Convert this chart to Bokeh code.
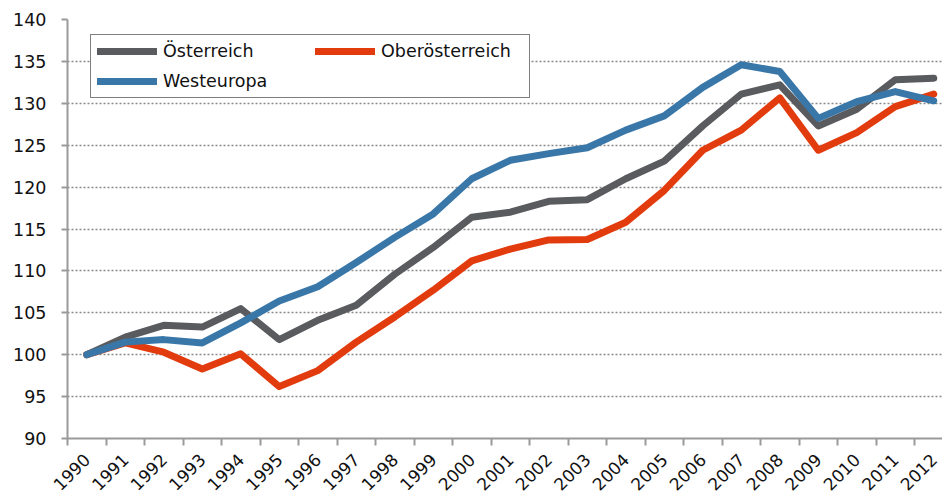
import math
from bokeh.plotting import figure
from bokeh.models import Range1d, FixedTicker, Legend, LegendItem
from bokeh.embed import file_html
from bokeh.resources import INLINE

years = list(range(1990, 2013))
oesterreich = [100, 102.1, 103.5, 103.3, 105.5, 101.8, 104.1, 105.9, 109.6, 112.8,
               116.4, 117.0, 118.3, 118.5, 121.0, 123.1, 127.3, 131.1, 132.2, 127.3,
               129.3, 132.8, 133.0]
oberoesterreich = [100, 101.4, 100.3, 98.3, 100.1, 96.2, 98.1, 101.5, 104.5, 107.7,
                   111.2, 112.6, 113.7, 113.75, 115.8, 119.6, 124.4, 126.8, 130.65, 124.4,
                   126.5, 129.6, 131.1]
westeuropa = [100, 101.5, 101.8, 101.4, 103.8, 106.4, 108.1, 111.0, 114.0, 116.8,
              121.0, 123.2, 124.0, 124.7, 126.8, 128.5, 131.9, 134.6, 133.8, 128.2,
              130.2, 131.4, 130.3]
series_names = ["Österreich", "Oberösterreich", "Westeuropa"]
series_colors = ["#5a5b5e", "#e23b0e", "#3a77a9"]
y_ticks = list(range(90, 141, 5))

xs = [y - years[0] for y in years]

FONT = "DejaVu Sans"
FS = "17.5px"
AX = "#9a9a9a"

p = figure(width=942, height=500, output_backend="svg", toolbar_location=None,
           x_range=Range1d(-0.5, 22.227), y_range=Range1d(90, 140),
           min_border_left=67, min_border_top=19, min_border_right=0, min_border_bottom=62)
p.outline_line_color = None
p.background_fill_color = "white"
p.border_fill_color = "white"

renderers = []
for vals, col in zip([oesterreich, oberoesterreich, westeuropa], series_colors):
    r = p.line(xs, vals, line_color=col, line_width=7, line_cap="round", line_join="round")
    renderers.append(r)

# x axis
p.xaxis.ticker = FixedTicker(ticks=xs, minor_ticks=[i - 0.5 for i in range(len(years) + 1)])
p.xaxis.major_label_overrides = {x: str(y) for x, y in zip(xs, years)}
p.xaxis.major_label_orientation = math.pi / 4
p.xaxis.major_tick_line_color = None
p.xaxis.minor_tick_line_color = AX
p.xaxis.minor_tick_line_width = 2
p.xaxis.minor_tick_out = 7
p.xaxis.minor_tick_in = 0
p.xaxis.axis_line_color = AX
p.xaxis.axis_line_width = 2
p.xaxis.major_label_text_font = FONT
p.xaxis.major_label_text_font_size = "17px"
p.xaxis.major_label_text_color = "#111111"
p.xaxis.major_label_standoff = 11

# y axis
p.yaxis.ticker = FixedTicker(ticks=y_ticks)
p.yaxis.major_tick_line_color = AX
p.yaxis.major_tick_line_width = 2
p.yaxis.major_tick_out = 6
p.yaxis.major_tick_in = 0
p.yaxis.minor_tick_line_color = None
p.yaxis.axis_line_color = AX
p.yaxis.axis_line_width = 2
p.yaxis.major_label_text_font = FONT
p.yaxis.major_label_text_font_size = FS
p.yaxis.major_label_text_color = "#111111"
p.yaxis.major_label_standoff = 15

p.xgrid.visible = False
p.ygrid.grid_line_color = "#8a8a8a"
p.ygrid.grid_line_width = 1.3
p.ygrid.grid_line_dash = "2 2"

legend = Legend(items=[LegendItem(label=n, renderers=[r]) for n, r in zip(series_names, renderers)],
                location=(23, 340), orientation="horizontal", ncols=2,
                padding=6, spacing=10, glyph_width=60, glyph_height=20, label_height=20,
                label_width=142, label_standoff=6,
                label_text_font=FONT, label_text_font_size=FS, label_text_color="#111111",
                border_line_color="black", border_line_width=1.5,
                background_fill_color="white", background_fill_alpha=1.0, margin=0)
p.add_layout(legend, "center")

open("out.html", "w").write(file_html(p, INLINE))
